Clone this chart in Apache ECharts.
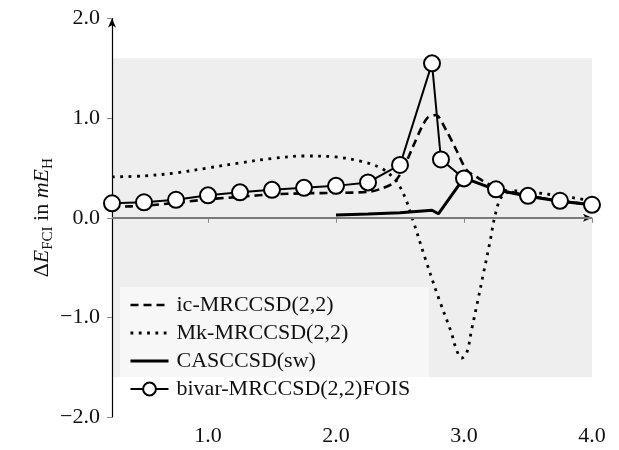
<!DOCTYPE html>
<html>
<head>
<meta charset="utf-8">
<script src="https://cdn.jsdelivr.net/npm/echarts@6/dist/echarts.min.js"></script>
<style>
html,body{margin:0;padding:0;background:#fff;}
#chart{width:619px;height:450px;}
</style>
</head>
<body>
<div id="chart"></div>
<script>
// ---- data ----
const seriesNames = ['ic-MRCCSD(2,2)', 'Mk-MRCCSD(2,2)', 'CASCCSD(sw)', 'bivar-MRCCSD(2,2)FOIS'];

const icX = [0.25,0.5,0.75,1.0,1.25,1.5,1.75,2.0,2.25,2.35,2.45,2.52,2.6,2.67,2.72,2.78,2.86,2.94,3.02,3.11,3.2,3.25,3.5,3.75,4.0];
const icY = [0.11,0.12,0.15,0.185,0.21,0.235,0.245,0.25,0.26,0.29,0.35,0.48,0.71,0.91,1.01,1.03,0.88,0.68,0.48,0.40,0.33,0.30,0.22,0.17,0.13];

const mkX = [0.25,0.5,0.75,1.0,1.25,1.5,1.75,2.0,2.2,2.35,2.45,2.5,2.55,2.6,2.7,2.8,2.9,2.94,2.98,3.02,3.06,3.1,3.15,3.2,3.25,3.3,3.4,3.5,3.75,4.0];
const mkY = [0.41,0.42,0.45,0.50,0.55,0.595,0.62,0.61,0.565,0.50,0.40,0.31,0.17,-0.02,-0.42,-0.80,-1.15,-1.32,-1.41,-1.36,-1.12,-0.88,-0.57,-0.26,0.06,0.22,0.27,0.26,0.22,0.17];

const casX = [2.0,2.25,2.5,2.75,2.8,3.0,3.25,3.5,3.75,4.0];
const casY = [0.027,0.037,0.05,0.075,0.04,0.40,0.28,0.215,0.165,0.13];

const bivX = [0.25,0.5,0.75,1.0,1.25,1.5,1.75,2.0,2.25,2.5,2.75,2.82,3.0,3.25,3.5,3.75,4.0];
const bivY = [0.145,0.155,0.18,0.225,0.255,0.28,0.30,0.32,0.355,0.53,1.55,0.585,0.395,0.285,0.22,0.17,0.13];

const xTicks = [1.0, 2.0, 3.0, 4.0];
const yTicks = [-2.0, -1.0, 0.0, 1.0, 2.0];
const bandRange = [-1.6, 1.6];
const zeroLine = 0;

// ---- chart ----
const pairs = (xs, ys) => xs.map((x, i) => [x, ys[i]]);
const FONT = "'Liberation Serif', 'Times New Roman', serif";
const fmt = v => (v < 0 ? '\u2212' + Math.abs(v).toFixed(1) : v.toFixed(1));

const dashStyle = {color: '#000', width: 2.6, type: [8, 5]};
const dotStyle = {color: '#000', width: 2.8, type: [2.8, 5.5], cap: 'butt'};
const thickStyle = {color: '#000', width: 3};
const thinStyle = {color: '#000', width: 2};

const chart = echarts.init(document.getElementById('chart'), null, {renderer: 'canvas'});
const option = {
  animation: false,
  backgroundColor: '#ffffff',
  textStyle: {fontFamily: FONT},
  grid: {left: 112, right: 27, top: 18.5, bottom: 33, containLabel: false},
  legend: {
    orient: 'vertical',
    left: 120, top: 287,
    backgroundColor: 'rgba(255,255,255,0.55)',
    padding: [7, 19, 6, 9],
    itemWidth: 38, itemHeight: 16, itemGap: 6,
    textStyle: {fontFamily: FONT, fontSize: 22, color: '#111', padding: [0, 0, 0, 3]},
    data: [
      {name: seriesNames[0], itemStyle: {opacity: 0}, lineStyle: dashStyle},
      {name: seriesNames[1], itemStyle: {opacity: 0}, lineStyle: dotStyle},
      {name: seriesNames[2], itemStyle: {opacity: 0}, lineStyle: thickStyle},
      {name: seriesNames[3], lineStyle: thinStyle}
    ]
  },
  xAxis: {
    type: 'value', min: 0.25, max: 4.0,
    axisLine: {show: true, lineStyle: {color: '#000', width: 1.2}, symbol: ['none', 'arrow'], symbolSize: [6, 9]},
    axisTick: {show: true, customValues: xTicks, length: 5, lineStyle: {color: '#888', width: 1}},
    axisLabel: {customValues: xTicks, formatter: fmt, fontFamily: FONT, fontSize: 22, color: '#111', margin: 8},
    splitLine: {show: false}
  },
  yAxis: {
    type: 'value', min: -2, max: 2, interval: 1,
    name: '{a|\u0394}{i|E}{s|FCI}{a| in }{i|mE}{s|H}',
    nameLocation: 'middle', nameGap: 56, nameMoveOverlap: false,
    nameTextStyle: {
      rich: {
        a: {fontFamily: FONT, fontSize: 22, color: '#111'},
        i: {fontFamily: FONT, fontSize: 22, fontStyle: 'italic', color: '#111'},
        s: {fontFamily: FONT, fontSize: 15, color: '#111', padding: [12, 0, 0, 0]}
      }
    },
    axisLine: {show: true, lineStyle: {color: '#000', width: 1.2}, symbol: ['none', 'arrow'], symbolSize: [6, 9]},
    axisTick: {show: true, customValues: yTicks, length: 5, lineStyle: {color: '#888', width: 1}},
    axisLabel: {customValues: yTicks, formatter: fmt, fontFamily: FONT, fontSize: 22, color: '#111', margin: 12},
    splitLine: {show: false}
  },
  series: [
    {
      name: seriesNames[0], type: 'line', data: pairs(icX, icY), smooth: 0.3,
      symbol: 'none', z: 3,
      lineStyle: dashStyle,
      itemStyle: {color: '#000'},
      markArea: {
        silent: true, z: 0,
        itemStyle: {color: '#eeeeee'},
        data: [[{yAxis: bandRange[0]}, {yAxis: bandRange[1]}]]
      },
      markLine: {
        silent: true, symbol: 'none', label: {show: false},
        lineStyle: {color: '#7a7a7a', width: 1.8, type: 'solid'},
        data: [{yAxis: zeroLine}]
      }
    },
    {
      name: seriesNames[1], type: 'line', data: pairs(mkX, mkY), smooth: 0.35,
      symbol: 'none', z: 3,
      lineStyle: dotStyle,
      itemStyle: {color: '#000'}
    },
    {
      name: seriesNames[2], type: 'line', data: pairs(casX, casY),
      symbol: 'none', z: 4,
      lineStyle: thickStyle,
      itemStyle: {color: '#000'}
    },
    {
      name: seriesNames[3], type: 'line', data: pairs(bivX, bivY),
      symbol: 'circle', symbolSize: 16, showSymbol: true, z: 5,
      lineStyle: thinStyle,
      itemStyle: {color: '#fff', borderColor: '#000', borderWidth: 2}
    }
  ]
};
chart.setOption(option);
</script>
</body>
</html>
